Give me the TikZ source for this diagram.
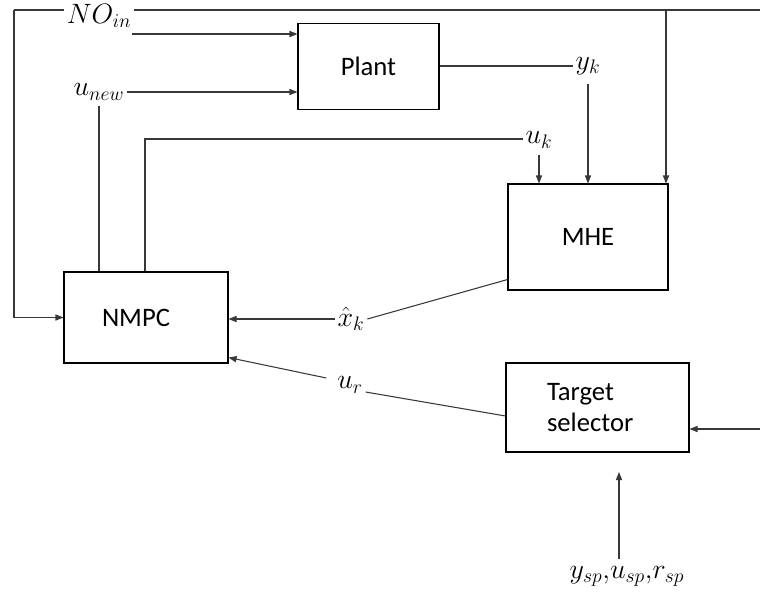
\RequirePackage{fix-cm}
\documentclass[tikz,border=0pt]{standalone}
\usepackage{fontspec}
\setmainfont{Carlito}
\usetikzlibrary{arrows.meta,calc}
\begin{document}
\begin{tikzpicture}[x=0.75pt,y=-0.75pt,
  font=\fontsize{20}{23.5}\selectfont,
  box/.style={draw=black, line width=0.8pt, inner sep=0pt},
  lbl/.style={inner sep=2pt, font=\fontsize{21}{24}\selectfont},
  conn/.style={draw=black!78, line width=0.8pt},
  arr/.style={conn, -{Triangle[length=6pt,width=4.6pt]}}]
\useasboundingbox (0,0) rectangle (760,594);
% boxes
\node[box, minimum width=105.75pt, minimum height=64pt] (plant) at (368.5,66.5) {Plant};
\node[box, minimum width=120pt, minimum height=79.5pt] (mhe) at (588,237) {MHE};
\node[box, minimum width=123pt, minimum height=68.25pt, inner xsep=28.5pt, text width=66pt, align=left] (nmpc) at (146,317.5) {NMPC};
\node[box, minimum width=137.25pt, minimum height=66.75pt, inner xsep=30.75pt, text width=75.75pt, align=left] (ts) at (597.5,407.5) {Target\\selector};
% labels
\node[lbl] (noin) at (99,16) {$NO_{in}$};
\node[lbl] (unew) at (99,92) {$u_{new}$};
\node[lbl] (yk) at (588,66) {$y_k$};
\node[lbl] (uk) at (539,140) {$u_k$};
\node[lbl] (xk) at (351,319) {$\hat{x}_k$};
\node[lbl] (ur) at (350,385) {$u_r$};
\node[lbl] (ysp) at (627,576) {$y_{sp}{,}u_{sp}{,}r_{sp}$};
% coordinates
\coordinate (tl) at (14,10);
\coordinate (tr) at (760,10);
\coordinate (br) at (666,10);
\coordinate (a1) at (132,34);
\coordinate (rin) at (760,429);
\coordinate (bt) at (619,472);
\coordinate (ukc) at (145,139);
% connectors
\draw[conn] (noin.west |- tl) -- (tl);
\draw[arr] (tl) |- (nmpc.west);
\draw[conn] (noin.east |- tr) -- (tr);
\draw[arr] (br) -- (br |- mhe.north);
\draw[arr] (a1) -- (a1 -| plant.west);
\draw[arr] (unew.east) -- (unew.east -| plant.west);
\draw[conn] ([yshift=-2pt]unew.south) -- (unew.south |- nmpc.north);
\draw[conn] (ukc |- nmpc.north) -- (ukc) -- (ukc -| uk.west);
\draw[arr] ([yshift=-3pt]uk.south) -- (uk.south |- mhe.north);
\draw[conn] (plant.east |- yk) -- (yk.west);
\draw[arr] ([yshift=-5pt]yk.south) -- (yk.south |- mhe.north);
\draw[conn] ($(mhe.south west)+(0,-11)$) -- (xk.east);
\draw[arr] (xk.west) -- (xk.west -| nmpc.east);
\draw[conn] ($(ts.west)+(0,8.5)$) -- ($(ur.east)+(0,7)$);
\draw[arr] ($(ur.west)+(-8,-7)$) -- ($(nmpc.south east)+(0,-6)$);
\draw[arr] (rin) -- (rin -| ts.east);
\draw[arr] ([yshift=3pt]ysp.north -| bt) -- (bt);
\end{tikzpicture}
\end{document}
